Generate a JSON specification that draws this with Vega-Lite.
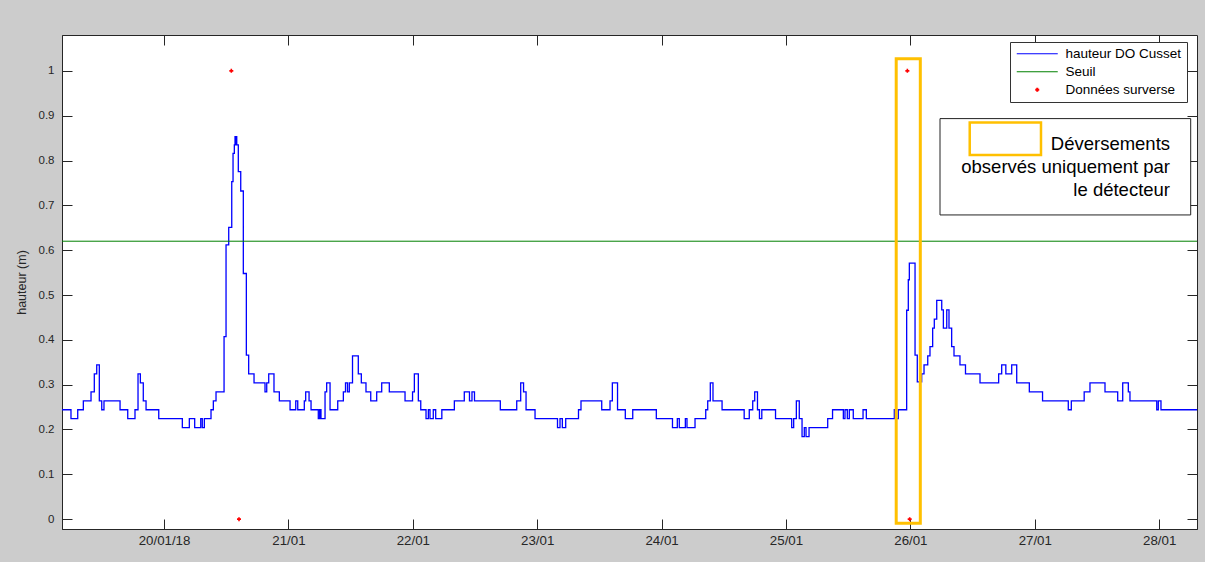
{
  "$schema": "https://vega.github.io/schema/vega-lite/v6.json",
  "width": 1135,
  "height": 494,
  "autosize": "none",
  "padding": {"left": 62, "top": 35, "right": 8, "bottom": 33},
  "background": "#cccccc",
  "config": {
    "view": {"fill": "white", "stroke": "#262626", "strokeWidth": 1},
    "axis": {"grid": false, "domainColor": "#262626", "tickColor": "#262626", "labelColor": "#262626", "tickSize": -10, "labelFont": "Liberation Sans", "titleFont": "Liberation Sans", "titleFontWeight": "normal", "titleColor": "#262626"}
  },
  "datasets": {
    "hauteur": [
      {"t":"2018-01-19T04:19","h":0.244},{"t":"2018-01-19T06:03","h":0.224},{"t":"2018-01-19T07:21","h":0.244},{"t":"2018-01-19T08:26","h":0.264},
      {"t":"2018-01-19T09:55","h":0.284},{"t":"2018-01-19T10:33","h":0.324},{"t":"2018-01-19T11:01","h":0.344},{"t":"2018-01-19T11:31","h":0.264},
      {"t":"2018-01-19T11:59","h":0.244},{"t":"2018-01-19T12:25","h":0.264},{"t":"2018-01-19T15:31","h":0.244},{"t":"2018-01-19T17:00","h":0.224},
      {"t":"2018-01-19T18:24","h":0.244},{"t":"2018-01-19T18:59","h":0.324},{"t":"2018-01-19T19:26","h":0.304},{"t":"2018-01-19T20:00","h":0.264},
      {"t":"2018-01-19T20:32","h":0.244},{"t":"2018-01-19T22:59","h":0.224},{"t":"2018-01-20T03:32","h":0.204},{"t":"2018-01-20T04:53","h":0.224},
      {"t":"2018-01-20T05:55","h":0.204},{"t":"2018-01-20T07:05","h":0.224},{"t":"2018-01-20T07:23","h":0.204},{"t":"2018-01-20T07:47","h":0.224},
      {"t":"2018-01-20T09:04","h":0.244},{"t":"2018-01-20T09:31","h":0.264},{"t":"2018-01-20T10:02","h":0.284},{"t":"2018-01-20T11:35","h":0.407},
      {"t":"2018-01-20T11:58","h":0.612},{"t":"2018-01-20T12:29","h":0.651},{"t":"2018-01-20T13:04","h":0.753},{"t":"2018-01-20T13:19","h":0.816},
      {"t":"2018-01-20T13:34","h":0.835},{"t":"2018-01-20T13:42","h":0.853},{"t":"2018-01-20T13:49","h":0.835},{"t":"2018-01-20T13:53","h":0.853},
      {"t":"2018-01-20T14:02","h":0.835},{"t":"2018-01-20T14:20","h":0.775},{"t":"2018-01-20T14:48","h":0.732},{"t":"2018-01-20T15:18","h":0.548},
      {"t":"2018-01-20T15:53","h":0.366},{"t":"2018-01-20T16:20","h":0.324},{"t":"2018-01-20T17:22","h":0.304},{"t":"2018-01-20T19:29","h":0.284},
      {"t":"2018-01-20T19:49","h":0.304},{"t":"2018-01-20T20:12","h":0.324},{"t":"2018-01-20T21:13","h":0.284},{"t":"2018-01-20T22:15","h":0.264},
      {"t":"2018-01-21T00:19","h":0.244},{"t":"2018-01-21T01:25","h":0.264},{"t":"2018-01-21T01:48","h":0.244},{"t":"2018-01-21T03:04","h":0.264},
      {"t":"2018-01-21T03:20","h":0.284},{"t":"2018-01-21T03:59","h":0.264},{"t":"2018-01-21T04:22","h":0.244},{"t":"2018-01-21T05:46","h":0.224},
      {"t":"2018-01-21T06:02","h":0.244},{"t":"2018-01-21T06:17","h":0.224},{"t":"2018-01-21T07:04","h":0.284},{"t":"2018-01-21T07:23","h":0.304},
      {"t":"2018-01-21T08:02","h":0.244},{"t":"2018-01-21T09:31","h":0.264},{"t":"2018-01-21T10:36","h":0.284},{"t":"2018-01-21T11:01","h":0.304},
      {"t":"2018-01-21T11:24","h":0.284},{"t":"2018-01-21T11:45","h":0.304},{"t":"2018-01-21T12:22","h":0.364},{"t":"2018-01-21T13:29","h":0.324},
      {"t":"2018-01-21T14:04","h":0.304},{"t":"2018-01-21T14:58","h":0.284},{"t":"2018-01-21T15:53","h":0.264},{"t":"2018-01-21T17:02","h":0.284},
      {"t":"2018-01-21T18:00","h":0.304},{"t":"2018-01-21T19:28","h":0.284},{"t":"2018-01-21T22:30","h":0.264},{"t":"2018-01-21T23:57","h":0.284},
      {"t":"2018-01-22T00:18","h":0.324},{"t":"2018-01-22T01:04","h":0.264},{"t":"2018-01-22T01:32","h":0.244},{"t":"2018-01-22T02:33","h":0.224},
      {"t":"2018-01-22T03:00","h":0.244},{"t":"2018-01-22T03:19","h":0.224},{"t":"2018-01-22T03:57","h":0.244},{"t":"2018-01-22T04:25","h":0.224},
      {"t":"2018-01-22T05:36","h":0.244},{"t":"2018-01-22T08:01","h":0.264},{"t":"2018-01-22T09:56","h":0.284},{"t":"2018-01-22T10:56","h":0.264},
      {"t":"2018-01-22T11:25","h":0.284},{"t":"2018-01-22T11:54","h":0.264},{"t":"2018-01-22T16:53","h":0.244},{"t":"2018-01-22T20:03","h":0.264},
      {"t":"2018-01-22T20:49","h":0.304},{"t":"2018-01-22T21:22","h":0.284},{"t":"2018-01-22T21:51","h":0.244},{"t":"2018-01-22T23:35","h":0.224},
      {"t":"2018-01-23T03:55","h":0.204},{"t":"2018-01-23T04:24","h":0.224},{"t":"2018-01-23T04:51","h":0.204},{"t":"2018-01-23T05:30","h":0.224},
      {"t":"2018-01-23T07:58","h":0.244},{"t":"2018-01-23T08:27","h":0.264},{"t":"2018-01-23T12:27","h":0.244},{"t":"2018-01-23T14:03","h":0.264},
      {"t":"2018-01-23T14:30","h":0.304},{"t":"2018-01-23T15:30","h":0.244},{"t":"2018-01-23T17:00","h":0.224},{"t":"2018-01-23T18:26","h":0.244},
      {"t":"2018-01-23T22:59","h":0.224},{"t":"2018-01-24T02:06","h":0.204},{"t":"2018-01-24T03:02","h":0.224},{"t":"2018-01-24T03:25","h":0.204},
      {"t":"2018-01-24T04:35","h":0.224},{"t":"2018-01-24T04:54","h":0.204},{"t":"2018-01-24T06:27","h":0.224},{"t":"2018-01-24T08:31","h":0.244},
      {"t":"2018-01-24T08:54","h":0.264},{"t":"2018-01-24T09:24","h":0.304},{"t":"2018-01-24T09:55","h":0.264},{"t":"2018-01-24T11:40","h":0.244},
      {"t":"2018-01-24T15:56","h":0.224},{"t":"2018-01-24T16:55","h":0.244},{"t":"2018-01-24T17:35","h":0.264},{"t":"2018-01-24T17:58","h":0.284},
      {"t":"2018-01-24T18:30","h":0.244},{"t":"2018-01-24T18:53","h":0.224},{"t":"2018-01-24T19:20","h":0.244},{"t":"2018-01-24T21:59","h":0.224},
      {"t":"2018-01-25T01:06","h":0.204},{"t":"2018-01-25T01:29","h":0.224},{"t":"2018-01-25T02:00","h":0.264},{"t":"2018-01-25T02:34","h":0.224},
      {"t":"2018-01-25T03:06","h":0.184},{"t":"2018-01-25T03:32","h":0.204},{"t":"2018-01-25T03:52","h":0.184},{"t":"2018-01-25T04:27","h":0.204},
      {"t":"2018-01-25T08:03","h":0.224},{"t":"2018-01-25T08:59","h":0.244},{"t":"2018-01-25T11:04","h":0.224},{"t":"2018-01-25T11:23","h":0.244},
      {"t":"2018-01-25T11:50","h":0.224},{"t":"2018-01-25T12:13","h":0.244},{"t":"2018-01-25T12:59","h":0.224},{"t":"2018-01-25T14:52","h":0.244},
      {"t":"2018-01-25T15:30","h":0.224},{"t":"2018-01-25T20:54","h":0.244},{"t":"2018-01-25T21:14","h":0.224},{"t":"2018-01-25T21:40","h":0.244},
      {"t":"2018-01-25T23:17","h":0.466},{"t":"2018-01-25T23:36","h":0.534},{"t":"2018-01-25T23:48","h":0.571},{"t":"2018-01-26T00:54","h":0.366},
      {"t":"2018-01-26T01:20","h":0.306},{"t":"2018-01-26T02:11","h":0.324},{"t":"2018-01-26T02:38","h":0.344},{"t":"2018-01-26T03:21","h":0.364},
      {"t":"2018-01-26T03:47","h":0.385},{"t":"2018-01-26T04:18","h":0.426},{"t":"2018-01-26T04:37","h":0.446},{"t":"2018-01-26T05:05","h":0.488},
      {"t":"2018-01-26T06:03","h":0.467},{"t":"2018-01-26T06:22","h":0.426},{"t":"2018-01-26T07:01","h":0.467},{"t":"2018-01-26T07:27","h":0.426},
      {"t":"2018-01-26T07:58","h":0.385},{"t":"2018-01-26T08:25","h":0.364},{"t":"2018-01-26T09:34","h":0.344},{"t":"2018-01-26T10:38","h":0.324},
      {"t":"2018-01-26T13:26","h":0.304},{"t":"2018-01-26T17:02","h":0.324},{"t":"2018-01-26T17:37","h":0.344},{"t":"2018-01-26T18:25","h":0.324},
      {"t":"2018-01-26T19:33","h":0.344},{"t":"2018-01-26T20:31","h":0.304},{"t":"2018-01-26T22:57","h":0.284},{"t":"2018-01-27T01:30","h":0.264},
      {"t":"2018-01-27T06:28","h":0.244},{"t":"2018-01-27T07:03","h":0.264},{"t":"2018-01-27T09:32","h":0.284},{"t":"2018-01-27T10:39","h":0.304},
      {"t":"2018-01-27T13:33","h":0.284},{"t":"2018-01-27T16:00","h":0.264},{"t":"2018-01-27T16:58","h":0.304},{"t":"2018-01-27T18:03","h":0.284},
      {"t":"2018-01-27T18:22","h":0.264},{"t":"2018-01-27T23:32","h":0.244},{"t":"2018-01-27T23:50","h":0.264},{"t":"2018-01-28T00:21","h":0.244},
      {"t":"2018-01-28T07:18","h":0.244}
    ],
    "seuil": [{"s": 0.62}],
    "surverse": [
      {"t":"2018-01-20T12:59","v":1},{"t":"2018-01-20T14:28","v":0},
      {"t":"2018-01-25T23:25","v":1},{"t":"2018-01-25T23:52","v":0}
    ],
    "highlight": [
      {"x1":"2018-01-25T21:16","x2":"2018-01-26T01:55","y1":1.0272,"y2":-0.0094}
    ],
    "notebox": [
      {"x1":"2018-01-26T05:43","x2":"2018-01-28T06:05","y1":0.8935,"y2":0.6786}
    ],
    "keybox": [
      {"x1":"2018-01-26T11:27","x2":"2018-01-27T01:12","y1":0.8846,"y2":0.8125}
    ],
    "notetext": [
      {"x":"2018-01-28T02:06","y":0.858,"label":"Déversements\nobservés uniquement par\nle détecteur"}
    ]
  },
  "resolve": {"axis": {"x": "independent", "y": "independent"}},
  "layer": [
    {
      "data": {"name": "hauteur"},
      "mark": {"type": "line", "interpolate": "step-after", "strokeWidth": 1.3},
      "encoding": {
        "x": {
          "field": "t", "type": "temporal",
          "scale": {"domain": [{"year":2018,"month":1,"date":19,"hours":4,"minutes":19},{"year":2018,"month":1,"date":28,"hours":7,"minutes":18}]},
          "axis": {
            "title": null, "orient": "bottom",
            "values": [{"year":2018,"month":1,"date":20},{"year":2018,"month":1,"date":21},{"year":2018,"month":1,"date":22},{"year":2018,"month":1,"date":23},{"year":2018,"month":1,"date":24},{"year":2018,"month":1,"date":25},{"year":2018,"month":1,"date":26},{"year":2018,"month":1,"date":27},{"year":2018,"month":1,"date":28}],
            "labelExpr": "timeFormat(datum.value, '%d') == '20' ? timeFormat(datum.value, '%d/%m/%y') : timeFormat(datum.value, '%d/%m')",
            "labelFontSize": 13.3, "labelPadding": 14, "labelFlush": false, "labelOverlap": false
          }
        },
        "y": {
          "field": "h", "type": "quantitative",
          "scale": {"domain": [-0.022, 1.08], "nice": false, "zero": false},
          "axis": {
            "title": "hauteur (m)", "orient": "left",
            "values": [0, 0.1, 0.2, 0.3, 0.4, 0.5, 0.6, 0.7, 0.8, 0.9, 1],
            "format": ".1~f", "labelFontSize": 11.5, "labelPadding": 18,
            "titleFontSize": 12.5, "titlePadding": 10
          }
        },
        "color": {
          "datum": "hauteur DO Cusset",
          "scale": {"domain": ["hauteur DO Cusset", "Seuil", "Données surverse"], "range": ["#0000ff", "#008000", "#ff0000"]},
          "legend": {
            "title": null, "orient": "none", "legendX": 948, "legendY": 7,
            "direction": "vertical",
            "symbolType": "stroke", "symbolSize": 100, "symbolStrokeWidth": 1,
            "labelFont": "Liberation Sans", "labelFontSize": 13.5, "labelColor": "#000",
            "labelOffset": 37, "rowPadding": 3, "padding": 5,
            "strokeColor": "#333", "fillColor": "#ffffff",
            "encode": {
              "symbols": {
                "update": {
                  "shape": {"signal": "datum.value === 'Données surverse' ? 'M2.7,0L3.5,0M3.1,-0.4L3.1,0.4' : 'M-1,0L7.2,0'"},
                  "fill": {"value": "transparent"},
                  "strokeWidth": {"signal": "datum.value === 'Données surverse' ? 2 : 1"}
                }
              }
            }
          }
        }
      }
    },
    {
      "data": {"name": "seuil"},
      "mark": {"type": "rule", "strokeWidth": 1},
      "encoding": {
        "y": {"field": "s", "type": "quantitative", "axis": null},
        "color": {"datum": "Seuil"}
      }
    },
    {
      "data": {"name": "surverse"},
      "mark": {"type": "point", "shape": "cross", "filled": true, "size": 16, "opacity": 1},
      "encoding": {
        "x": {"field": "t", "type": "temporal",
          "axis": {"orient": "top", "labels": false, "title": null, "domain": false,
            "values": [{"year":2018,"month":1,"date":20},{"year":2018,"month":1,"date":21},{"year":2018,"month":1,"date":22},{"year":2018,"month":1,"date":23},{"year":2018,"month":1,"date":24},{"year":2018,"month":1,"date":25},{"year":2018,"month":1,"date":26},{"year":2018,"month":1,"date":27},{"year":2018,"month":1,"date":28}]}},
        "y": {"field": "v", "type": "quantitative",
          "axis": {"orient": "right", "labels": false, "title": null, "domain": false, "values": [0, 0.1, 0.2, 0.3, 0.4, 0.5, 0.6, 0.7, 0.8, 0.9, 1]}},
        "color": {"datum": "Données surverse"}
      }
    },
    {
      "data": {"name": "highlight"},
      "mark": {"type": "rect", "fill": "transparent", "stroke": "#ffc000", "strokeWidth": 3},
      "encoding": {
        "x": {"field": "x1", "type": "temporal", "axis": null},
        "x2": {"field": "x2"},
        "y": {"field": "y1", "type": "quantitative", "axis": null},
        "y2": {"field": "y2"}
      }
    },
    {
      "data": {"name": "notebox"},
      "mark": {"type": "rect", "fill": "#ffffff", "stroke": "#222222", "strokeWidth": 1},
      "encoding": {
        "x": {"field": "x1", "type": "temporal", "axis": null},
        "x2": {"field": "x2"},
        "y": {"field": "y1", "type": "quantitative", "axis": null},
        "y2": {"field": "y2"}
      }
    },
    {
      "data": {"name": "keybox"},
      "mark": {"type": "rect", "fill": "transparent", "stroke": "#ffc000", "strokeWidth": 2.5},
      "encoding": {
        "x": {"field": "x1", "type": "temporal", "axis": null},
        "x2": {"field": "x2"},
        "y": {"field": "y1", "type": "quantitative", "axis": null},
        "y2": {"field": "y2"}
      }
    },
    {
      "data": {"name": "notetext"},
      "mark": {"type": "text", "align": "right", "baseline": "top", "lineBreak": "\n", "lineHeight": 23.3, "font": "Liberation Sans", "fontSize": 18.5, "color": "#000000"},
      "encoding": {
        "x": {"field": "x", "type": "temporal", "axis": null},
        "y": {"field": "y", "type": "quantitative", "axis": null},
        "text": {"field": "label"}
      }
    }
  ]
}
